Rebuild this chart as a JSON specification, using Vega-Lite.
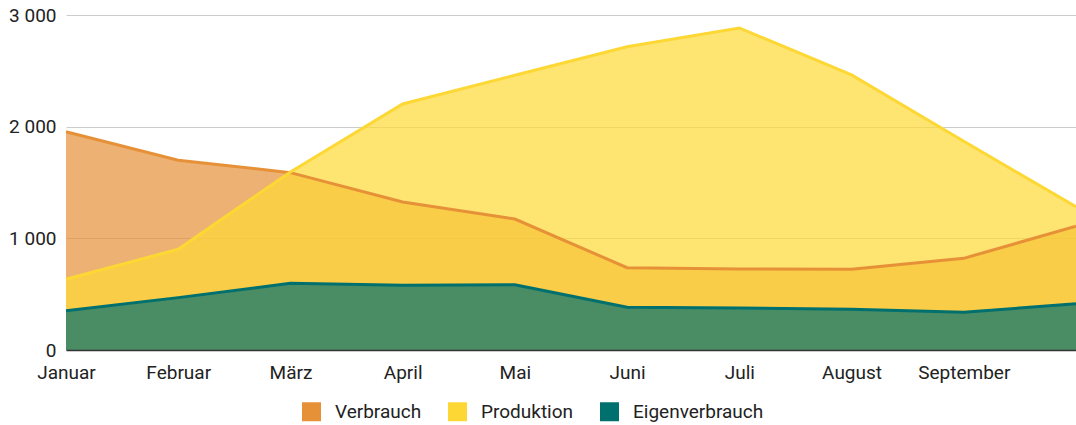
{
  "$schema": "https://vega.github.io/schema/vega-lite/v6.json",
  "width": 1010,
  "height": 335,
  "autosize": {"type": "none"},
  "padding": {"left": 66, "top": 15, "right": 0, "bottom": 75},
  "background": "white",
  "config": {
    "view": {"stroke": null},
    "font": "Roboto",
    "axis": {"labelFont": "Roboto", "labelColor": "#222222", "labelFontSize": 19, "titleFont": "Roboto"},
    "legend": {"labelFont": "Roboto", "labelColor": "#222222", "labelFontSize": 19}
  },
  "data": {
    "values": [
      {"Monat": "Januar", "Serie": "Verbrauch", "Wert": 1955},
      {"Monat": "Februar", "Serie": "Verbrauch", "Wert": 1700},
      {"Monat": "März", "Serie": "Verbrauch", "Wert": 1588},
      {"Monat": "April", "Serie": "Verbrauch", "Wert": 1325},
      {"Monat": "Mai", "Serie": "Verbrauch", "Wert": 1173},
      {"Monat": "Juni", "Serie": "Verbrauch", "Wert": 737},
      {"Monat": "Juli", "Serie": "Verbrauch", "Wert": 725},
      {"Monat": "August", "Serie": "Verbrauch", "Wert": 724},
      {"Monat": "September", "Serie": "Verbrauch", "Wert": 821},
      {"Monat": "Oktober", "Serie": "Verbrauch", "Wert": 1108},
      {"Monat": "Januar", "Serie": "Produktion", "Wert": 633},
      {"Monat": "Februar", "Serie": "Produktion", "Wert": 902},
      {"Monat": "März", "Serie": "Produktion", "Wert": 1595},
      {"Monat": "April", "Serie": "Produktion", "Wert": 2203},
      {"Monat": "Mai", "Serie": "Produktion", "Wert": 2460},
      {"Monat": "Juni", "Serie": "Produktion", "Wert": 2716},
      {"Monat": "Juli", "Serie": "Produktion", "Wert": 2884},
      {"Monat": "August", "Serie": "Produktion", "Wert": 2463},
      {"Monat": "September", "Serie": "Produktion", "Wert": 1869},
      {"Monat": "Oktober", "Serie": "Produktion", "Wert": 1283},
      {"Monat": "Januar", "Serie": "Eigenverbrauch", "Wert": 352},
      {"Monat": "Februar", "Serie": "Eigenverbrauch", "Wert": 469},
      {"Monat": "März", "Serie": "Eigenverbrauch", "Wert": 597},
      {"Monat": "April", "Serie": "Eigenverbrauch", "Wert": 579},
      {"Monat": "Mai", "Serie": "Eigenverbrauch", "Wert": 585},
      {"Monat": "Juni", "Serie": "Eigenverbrauch", "Wert": 382},
      {"Monat": "Juli", "Serie": "Eigenverbrauch", "Wert": 376},
      {"Monat": "August", "Serie": "Eigenverbrauch", "Wert": 364},
      {"Monat": "September", "Serie": "Eigenverbrauch", "Wert": 337},
      {"Monat": "Oktober", "Serie": "Eigenverbrauch", "Wert": 414}
    ]
  },
  "mark": {"type": "area", "fillOpacity": 0.7, "line": {"strokeWidth": 3}},
  "encoding": {
    "x": {
      "field": "Monat",
      "type": "ordinal",
      "sort": ["Januar", "Februar", "März", "April", "Mai", "Juni", "Juli", "August", "September", "Oktober"],
      "scale": {"type": "point", "padding": 0},
      "axis": {
        "title": null,
        "values": ["Januar", "Februar", "März", "April", "Mai", "Juni", "Juli", "August", "September"],
        "labelAngle": 0,
        "ticks": false,
        "grid": false,
        "domainColor": "#333333",
        "domainWidth": 1.5,
        "labelPadding": 13,
        "zindex": 1
      }
    },
    "y": {
      "field": "Wert",
      "type": "quantitative",
      "stack": null,
      "scale": {"domain": [0, 3000], "nice": false},
      "axis": {
        "title": null,
        "values": [0, 1000, 2000, 3000],
        "labelExpr": "replace(format(datum.value, ','), ',', ' ')",
        "domain": false,
        "ticks": false,
        "gridColor": "#cccccc",
        "gridWidth": 1,
        "labelPadding": 10
      }
    },
    "color": {
      "field": "Serie",
      "type": "nominal",
      "sort": ["Verbrauch", "Produktion", "Eigenverbrauch"],
      "scale": {"domain": ["Verbrauch", "Produktion", "Eigenverbrauch"], "range": ["#E69138", "#FDD835", "#00706F"]},
      "legend": {
        "title": null,
        "orient": "none",
        "direction": "horizontal",
        "legendX": 236,
        "legendY": 387,
        "symbolType": "square",
        "symbolSize": 361,
        "symbolStrokeWidth": 0,
        "symbolOpacity": 1,
        "labelOffset": 14,
        "columnPadding": 26,
        "encode": {"symbols": {"update": {"fillOpacity": {"value": 1}, "strokeWidth": {"value": 0}}}}
      }
    }
  }
}
